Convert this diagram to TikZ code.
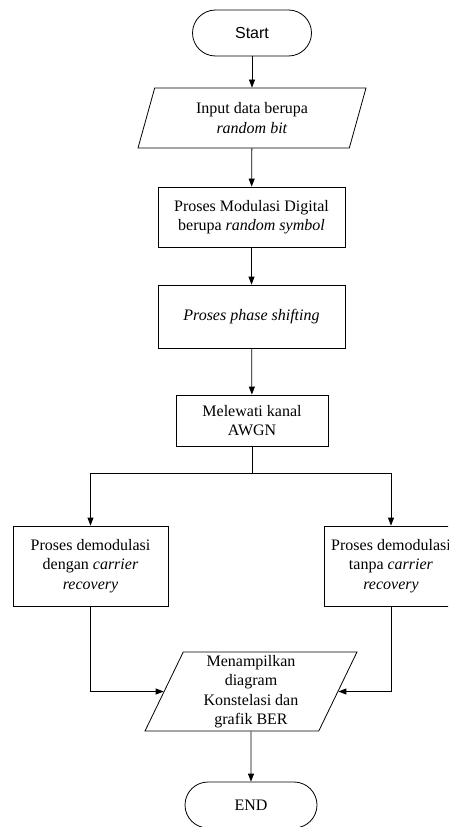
\documentclass[tikz,border=0pt]{standalone}
\usepackage{fontspec}
\setmainfont{Liberation Serif}
\newfontfamily\sansfont{Liberation Sans}
\usetikzlibrary{arrows.meta, positioning, shapes.geometric}

\begin{document}
\begin{tikzpicture}[x=1pt, y=-1pt, -{Triangle[length=8pt, width=6pt]}, line width=0.8pt,
			every node/.style={font=\fontsize{16}{19.5}\selectfont, align=center},
			terminal/.style={draw, rectangle, rounded corners=23pt, minimum height=46pt},
			proses/.style={draw, rectangle, inner sep=2pt},
			io/.style={draw, trapezium, trapezium left angle=63, trapezium right angle=117,
				trapezium stretches body, inner sep=1pt}]
			
			\useasboundingbox (0,0) rectangle (448,827);
			\clip (0,0) rectangle (448,827);
			
			% Node alur utama
			\node[terminal, minimum width=119pt] (start) at (252,33) {\sansfont Start};
			\node[io, minimum width=228pt, minimum height=60pt] (input) at (252,118) {Input data berupa\\ \textit{random bit}};
			\node[proses, minimum width=187pt, minimum height=60pt] (modul) at (251.5,217) {Proses Modulasi Digital\\ berupa \textit{random symbol}};
			\node[proses, minimum width=187pt, minimum height=63pt] (phase) at (251.5,316.5) {\textit{Proses phase shifting}};
			\node[proses, minimum width=152pt, minimum height=51pt] (awgn) at (252,420.5) {Melewati kanal\\ AWGN};
			
			% Dua cabang demodulasi
			\node[proses, minimum width=155pt, minimum height=80pt] (kiri) at (90.5,566) {Proses demodulasi\\ dengan \textit{carrier}\\ \textit{recovery}};
			\node[proses, minimum width=134pt, minimum height=80pt] (kanan) at (391,566) {Proses demodulasi\\ tanpa \textit{carrier}\\ \textit{recovery}};
			
			\node[io, minimum width=212pt, minimum height=79pt] (output) at (251,691.5) {Menampilkan\\ diagram\\ Konstelasi dan\\ grafik BER};
			\node[terminal, minimum width=132pt] (end) at (251,805) {END};
			
			\coordinate (cabang) at (252,473);
			
			% --- Panah ---
			\draw (start) -- (input);
			\draw (input) -- (modul);
			\draw (modul) -- (phase);
			\draw (phase) -- (awgn);
			\draw[-] (awgn) -- (cabang);
			\draw (cabang) -| (kiri);
			\draw (cabang) -| (kanan);
			\draw (kiri) |- (output.west);
			\draw (kanan) |- (output.east);
			\draw (output) -- (end);
			
		\end{tikzpicture}
\end{document}
